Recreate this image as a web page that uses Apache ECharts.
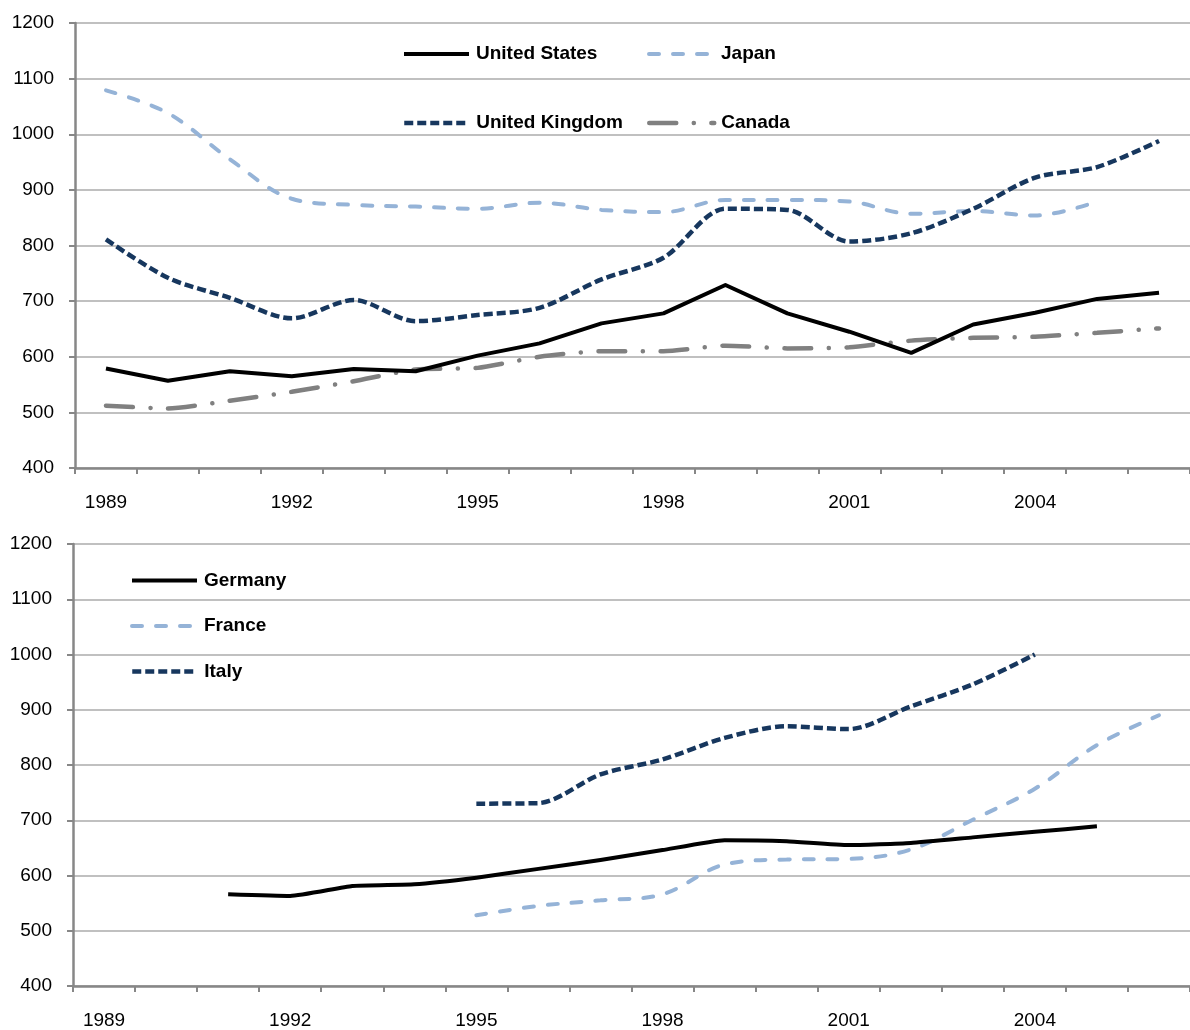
<!DOCTYPE html>
<html>
<head>
<meta charset="utf-8">
<script src="https://cdn.jsdelivr.net/npm/echarts@6/dist/echarts.min.js"></script>
<style>
  html, body { margin: 0; padding: 0; background: #fff; }
  #chart { width: 1190px; height: 1030px; }
</style>
</head>
<body>
<div id="chart"></div>
<script>
// years on the category axis (both panels)
const years = ["1989", "1990", "1991", "1992", "1993", "1994", "1995", "1996", "1997",
  "1998", "1999", "2000", "2001", "2002", "2003", "2004", "2005", "2006"];

// top panel
const usValues = [579, 557, 574, 565, 578, 574, 602, 624, 660, 678, 729, 678, 645, 607, 658, 679, 704, 715];
const japanValues = [1079, 1038, 955, 884, 873, 870, 866, 877, 864, 860, 882, 882, 879, 857, 862, 854, 879, null];
const ukValues = [811, 742, 706, 669, 702, 664, 675, 688, 739, 778, 866, 864, 807, 822, 866, 922, 941, 988];
const canadaValues = [512, 507, 521, 537, 556, 577, 580, 600, 610, 610, 620, 615, 617, 629, 634, 636, 643, 651];

// bottom panel
const germanyValues = [null, null, 566, 563, 581, 584, 596, 612, 628, 646, 664, 662, 655, 659, 669, 679, 689, null];
const franceValues = [null, null, null, null, null, null, 528, 545, 555, 566, 620, 629, 630, 647, 701, 757, 836, 890];
const italyValues = [null, null, null, null, null, null, 730, 731, 783, 810, 849, 870, 865, 906, 946, 1000, null, null];

const yTicks = { min: 400, max: 1200, interval: 100 };

const FONT = 'Arial, "Liberation Sans", sans-serif';
const AXIS_COLOR = "#878787";
const LIGHT_BLUE = "#95b3d7";
const NAVY = "#17375e";
const GREY = "#808080";

const chart = echarts.init(document.getElementById("chart"));

function xAxisFor(gridIndex) {
  return {
    type: "category",
    gridIndex: gridIndex,
    data: years,
    boundaryGap: true,
    axisLine: { lineStyle: { color: AXIS_COLOR, width: 2.5 } },
    axisTick: { show: true, interval: 0, length: 6, lineStyle: { color: AXIS_COLOR, width: 2 } },
    axisLabel: { interval: 2, margin: 25, color: "#000", fontSize: 19, fontFamily: FONT },
    splitLine: { show: false }
  };
}

function yAxisFor(gridIndex) {
  return {
    type: "value",
    gridIndex: gridIndex,
    min: yTicks.min,
    max: yTicks.max,
    interval: yTicks.interval,
    axisLine: { show: true, lineStyle: { color: AXIS_COLOR, width: 2.5 } },
    axisTick: { show: true, length: 6, lineStyle: { color: AXIS_COLOR, width: 2 } },
    axisLabel: {
      margin: 21, color: "#000", fontSize: 19, fontFamily: FONT,
      formatter: function (v) { return String(v); }
    },
    splitLine: { show: true, lineStyle: { color: "#c0c0c0", width: 2 } }
  };
}

function legendFor(name, left, centerY, width) {
  return {
    data: [{ name: name }],
    left: left,
    top: centerY - 9.5,
    padding: 0,
    itemWidth: 65,
    itemHeight: 19,
    selectedMode: false,
    itemStyle: { opacity: 0 },
    lineStyle: { width: width },
    textStyle: { color: "#000", fontSize: 19, fontWeight: "bold", fontFamily: FONT, padding: [0, 0, 0, 2] }
  };
}

function lineSeries(name, data, axisIndex, style, smooth) {
  return {
    name: name,
    type: "line",
    xAxisIndex: axisIndex,
    yAxisIndex: axisIndex,
    data: data,
    symbol: "none",
    smooth: smooth,
    connectNulls: false,
    itemStyle: { color: style.color },
    lineStyle: style
  };
}

const usStyle = { color: "#000", width: 4, type: "solid", join: "round" };
const japanStyle = { color: LIGHT_BLUE, width: 4, type: [10, 14], cap: "round" };
const ukStyle = { color: NAVY, width: 4.5, type: [9, 4] };
const canadaStyle = { color: GREY, width: 4.5, type: [27, 17.5, 0.1, 17.5], cap: "round" };

chart.setOption({
  backgroundColor: "#fff",
  animation: false,
  grid: [
    { left: 75, top: 23, width: 1124, height: 445 },
    { left: 73, top: 544, width: 1124, height: 443 }
  ],
  legend: [
    legendFor("United States", 402, 54, 4),
    legendFor("United Kingdom", 402, 123, 4.5),
    legendFor("Japan", 647, 54, 4),
    legendFor("Canada", 647, 123, 4.5),
    legendFor("Germany", 130, 580.5, 4),
    legendFor("France", 130, 626, 4),
    legendFor("Italy", 130, 671.5, 4.5)
  ],
  xAxis: [xAxisFor(0), xAxisFor(1)],
  yAxis: [yAxisFor(0), yAxisFor(1)],
  series: [
    lineSeries("Canada", canadaValues, 0, canadaStyle, 0.2),
    lineSeries("Japan", japanValues, 0, japanStyle, 0.35),
    lineSeries("United Kingdom", ukValues, 0, ukStyle, 0.3),
    lineSeries("United States", usValues, 0, usStyle, false),
    lineSeries("France", franceValues, 1, japanStyle, 0.35),
    lineSeries("Italy", italyValues, 1, ukStyle, 0.3),
    lineSeries("Germany", germanyValues, 1, usStyle, 0.15)
  ]
});
</script>
</body>
</html>
